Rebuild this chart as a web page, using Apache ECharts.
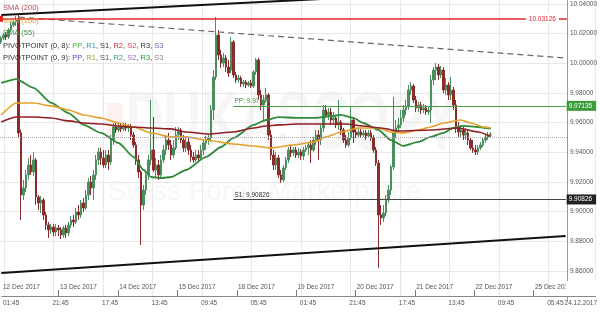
<!DOCTYPE html>
<html><head><meta charset="utf-8">
<script src="https://cdn.jsdelivr.net/npm/echarts@6/dist/echarts.min.js"></script>
<style>html,body{margin:0;padding:0;background:#fff}#c{width:600px;height:320px}</style>
</head><body><div id="c"></div>
<script>
// ---- data (hourly candles) ----
const opens = [10.0144,10.0171,10.0191,10.0178,10.0225,10.0259,10.0279,10.0292,9.9531,9.9113,
9.9160,9.9248,9.9315,9.9268,9.9349,9.9099,9.9059,9.9079,9.8978,9.8911,
9.8877,9.8897,9.8863,9.8890,9.8877,9.8843,9.8890,9.8857,9.8911,9.8944,
9.8931,9.8998,9.8978,9.9059,9.9025,9.9113,9.9200,9.9160,9.9248,9.9349,
9.9403,9.9362,9.9315,9.9382,9.9335,9.9483,9.9571,9.9551,9.9571,9.9558,
9.9578,9.9564,9.9571,9.9517,9.9450,9.9349,9.9268,9.9045,9.9146,9.9248,
9.9349,9.9416,9.9281,9.9315,9.9248,9.9349,9.9416,9.9483,9.9450,9.9382,
9.9430,9.9517,9.9551,9.9483,9.9430,9.9470,9.9416,9.9369,9.9349,9.9382,
9.9362,9.9416,9.9463,9.9483,9.9497,9.9686,9.9908,10.0191,10.0056,10.0002,
10.0036,9.9975,9.9955,10.0144,9.9922,9.9888,9.9901,9.9861,9.9874,9.9854,
9.9868,9.9847,9.9942,10.0023,9.9787,9.9719,9.9753,9.9787,9.9517,9.9382,
9.9315,9.9362,9.9248,9.9214,9.9295,9.9349,9.9416,9.9396,9.9416,9.9382,
9.9403,9.9376,9.9416,9.9430,9.9450,9.9416,9.9483,9.9517,9.9483,9.9564,
9.9686,9.9652,9.9672,9.9618,9.9632,9.9585,9.9605,9.9551,9.9483,9.9450,
9.9497,9.9618,9.9537,9.9517,9.9537,9.9517,9.9531,9.9510,9.9531,9.9497,
9.9416,9.9328,9.8978,9.8958,9.8991,9.9079,9.9146,9.9301,9.9531,9.9564,
9.9585,9.9632,9.9686,9.9706,9.9820,9.9847,9.9753,9.9699,9.9719,9.9686,
9.9699,9.9672,9.9686,9.9888,9.9955,9.9975,9.9922,9.9955,9.9820,9.9854,
9.9787,9.9820,9.9719,9.9571,9.9537,9.9551,9.9517,9.9531,9.9483,9.9430,
9.9416,9.9403,9.9430,9.9450,9.9483,9.9504,9.9517];
const closes = [10.0171,10.0191,10.0178,10.0225,10.0259,10.0279,10.0292,9.9531,9.9113,9.9160,
9.9248,9.9315,9.9268,9.9349,9.9099,9.9059,9.9079,9.8978,9.8911,9.8877,
9.8897,9.8863,9.8890,9.8877,9.8843,9.8890,9.8857,9.8911,9.8944,9.8931,
9.8998,9.8978,9.9059,9.9025,9.9113,9.9200,9.9160,9.9248,9.9349,9.9403,
9.9362,9.9315,9.9382,9.9335,9.9483,9.9571,9.9551,9.9571,9.9558,9.9578,
9.9564,9.9571,9.9517,9.9450,9.9349,9.9268,9.9045,9.9146,9.9248,9.9349,
9.9416,9.9281,9.9315,9.9248,9.9349,9.9416,9.9483,9.9450,9.9382,9.9430,
9.9517,9.9551,9.9483,9.9430,9.9470,9.9416,9.9369,9.9349,9.9382,9.9362,
9.9416,9.9463,9.9483,9.9497,9.9686,9.9908,10.0191,10.0056,10.0002,10.0036,
9.9975,9.9935,10.0144,9.9922,9.9888,9.9901,9.9861,9.9874,9.9854,9.9868,
9.9847,9.9942,10.0023,9.9787,9.9719,9.9753,9.9787,9.9517,9.9382,9.9315,
9.9362,9.9248,9.9214,9.9295,9.9349,9.9416,9.9396,9.9416,9.9382,9.9403,
9.9376,9.9416,9.9430,9.9450,9.9416,9.9483,9.9517,9.9483,9.9564,9.9686,
9.9652,9.9672,9.9618,9.9632,9.9585,9.9605,9.9551,9.9483,9.9450,9.9497,
9.9618,9.9537,9.9517,9.9537,9.9517,9.9531,9.9510,9.9531,9.9497,9.9416,
9.9328,9.8978,9.8958,9.8991,9.9079,9.9146,9.9301,9.9531,9.9564,9.9585,
9.9632,9.9686,9.9706,9.9820,9.9847,9.9753,9.9699,9.9719,9.9686,9.9699,
9.9672,9.9686,9.9888,9.9955,9.9975,9.9922,9.9955,9.9820,9.9854,9.9787,
9.9820,9.9719,9.9571,9.9537,9.9551,9.9517,9.9531,9.9483,9.9430,9.9416,
9.9403,9.9430,9.9450,9.9483,9.9504,9.9517,9.9522];
const lows = [10.0130,10.0157,10.0157,10.0164,10.0211,10.0245,10.0252,9.9497,9.8944,9.9079,
9.9133,9.9214,9.9248,9.9241,9.9045,9.9012,9.8991,9.8944,9.8877,9.8823,
9.8850,9.8836,9.8836,9.8836,9.8816,9.8823,9.8823,9.8836,9.8890,9.8897,
9.8917,9.8944,9.8958,9.8998,9.9012,9.9079,9.9113,9.9079,9.9214,9.9315,
9.9315,9.9295,9.9295,9.9281,9.9315,9.9450,9.9531,9.9537,9.9537,9.9544,
9.9544,9.9537,9.9483,9.9430,9.9315,9.9227,9.8776,9.9012,9.9113,9.9214,
9.9315,9.9268,9.9227,9.9214,9.9227,9.9328,9.9382,9.9416,9.9349,9.9362,
9.9416,9.9483,9.9463,9.9403,9.9403,9.9382,9.9335,9.9328,9.9335,9.9335,
9.9349,9.9382,9.9416,9.9450,9.9470,9.9618,9.9888,10.0023,9.9969,9.9975,
9.9942,9.9908,9.9935,9.9901,9.9868,9.9868,9.9841,9.9841,9.9834,9.9841,
9.9834,9.9834,9.9922,9.9753,9.9686,9.9618,9.9740,9.9483,9.9349,9.9281,
9.9281,9.9227,9.9194,9.9200,9.9281,9.9328,9.9369,9.9376,9.9362,9.9362,
9.9349,9.9349,9.9403,9.9382,9.9328,9.9403,9.9450,9.9349,9.9450,9.9537,
9.9632,9.9618,9.9585,9.9585,9.9564,9.9551,9.9517,9.9463,9.9430,9.9436,
9.9483,9.9463,9.9497,9.9497,9.9497,9.9504,9.9483,9.9497,9.9477,9.9396,
9.9308,9.8621,9.8911,9.8931,9.8971,9.9059,9.9113,9.9281,9.9497,9.9531,
9.9564,9.9605,9.9652,9.9686,9.9787,9.9733,9.9672,9.9672,9.9659,9.9665,
9.9652,9.9652,9.9598,9.9854,9.9888,9.9888,9.9901,9.9800,9.9787,9.9753,
9.9753,9.9686,9.9531,9.9504,9.9504,9.9483,9.9483,9.9450,9.9416,9.9396,
9.9382,9.9382,9.9416,9.9436,9.9463,9.9483,9.9497];
const highs = [10.0184,10.0205,10.0211,10.0238,10.0279,10.0306,10.0319,10.0326,9.9551,9.9214,
9.9281,9.9362,9.9382,9.9403,9.9362,9.9113,9.9106,9.9093,9.8998,9.8931,
9.8917,9.8917,9.8917,9.8911,9.8897,9.8904,9.8911,9.8931,9.8971,9.8978,
9.9025,9.9045,9.9079,9.9093,9.9146,9.9227,9.9241,9.9281,9.9382,9.9430,
9.9430,9.9416,9.9416,9.9416,9.9517,9.9598,9.9598,9.9598,9.9591,9.9598,
9.9598,9.9591,9.9591,9.9537,9.9470,9.9382,9.9281,9.9180,9.9281,9.9382,
9.9753,9.9638,9.9362,9.9349,9.9382,9.9450,9.9517,9.9531,9.9483,9.9483,
9.9571,9.9571,9.9564,9.9517,9.9497,9.9497,9.9450,9.9403,9.9416,9.9416,
9.9450,9.9483,9.9510,9.9517,9.9719,9.9955,10.0312,10.0225,10.0090,10.0070,
10.0056,10.0023,10.0178,10.0157,9.9942,9.9922,9.9915,9.9888,9.9888,9.9881,
9.9888,9.9955,10.0036,10.0036,9.9820,9.9787,9.9834,9.9800,9.9551,9.9416,
9.9403,9.9382,9.9281,9.9315,9.9369,9.9436,9.9450,9.9436,9.9436,9.9430,
9.9423,9.9436,9.9450,9.9470,9.9483,9.9504,9.9551,9.9551,9.9585,9.9719,
9.9719,9.9699,9.9699,9.9672,9.9652,9.9753,9.9618,9.9564,9.9517,9.9537,
9.9706,9.9632,9.9564,9.9564,9.9558,9.9551,9.9551,9.9551,9.9551,9.9517,
9.9436,9.9349,9.9045,9.9045,9.9113,9.9180,9.9315,9.9773,9.9618,9.9632,
9.9686,9.9719,9.9753,9.9854,9.9874,9.9861,9.9780,9.9740,9.9740,9.9726,
9.9719,9.9713,9.9922,9.9975,10.0002,9.9996,9.9982,9.9975,9.9901,9.9874,
9.9908,9.9841,9.9753,9.9605,9.9585,9.9571,9.9564,9.9551,9.9504,9.9483,
9.9450,9.9450,9.9470,9.9497,9.9517,9.9537,9.9537];

// moving averages, read at sample hours
const sma55Idx = [0,6,13,20,27,33,40,47,53,57,60,64,68,74,82,88,93,101,106,111,119,126,132,136,141,145,151,156,161,167,172,177,181,185,191,196];
const sma55 = [9.9868,9.9894,9.9834,9.9733,9.9665,9.9585,9.9531,9.9463,9.9369,9.9281,9.9234,9.9227,9.9234,9.9281,9.9369,9.9436,9.9497,9.9585,9.9618,9.9638,9.9632,9.9632,9.9645,9.9652,9.9632,9.9598,9.9551,9.9483,9.9443,9.9470,9.9504,9.9531,9.9564,9.9578,9.9571,9.95596];
const sma100Idx = [0,6,13,20,27,33,40,47,53,60,68,74,82,93,101,108,117,125,130,136,143,151,156,161,167,172,177,184,188,193,196];
const sma100 = [9.9652,9.9733,9.9733,9.9713,9.9686,9.9652,9.9632,9.9598,9.9571,9.9531,9.9504,9.9504,9.9483,9.9456,9.9443,9.9430,9.9450,9.9470,9.9504,9.9537,9.9564,9.9564,9.9537,9.9531,9.9551,9.9571,9.9598,9.9618,9.9598,9.9571,9.9564];
const sma200Idx = [0,6,13,20,27,33,40,47,53,60,68,74,83,93,101,106,111,119,130,138,145,152,159,172,183,191,196];
const sma200 = [9.9605,9.9638,9.9638,9.9632,9.9612,9.9598,9.9591,9.9578,9.9571,9.9564,9.9558,9.9537,9.9524,9.9537,9.9564,9.9578,9.9585,9.9591,9.9591,9.9591,9.9578,9.9564,9.9544,9.9551,9.9564,9.9537,9.95069];

// trend lines: [start hour, end hour] and levels
const trendUpperIdx = [0,226], trendUpper = [10.0326,10.0516];
const trendLowerIdx = [0,226], trendLower = [9.8587,9.8836];
const trendDashIdx = [7,226], trendDash = [10.0312,10.0036];

// levels
const levelHigh = 10.03126;
const pivotPP = 9.97135;
const pivotS1 = 9.90826;
const pivotStartIdx = 93;

// labels
const yTicks = [9.86,9.88,9.90,9.92,9.94,9.96,9.98,10.00,10.02,10.04];
const timeLabels = ['01:45','21:45','17:45','13:45','09:45','05:45','01:45','21:45','17:45','13:45','09:45','05:45'];
const cursorLabel = '24.12.2017';
const dateLabels = ['12 Dec 2017','13 Dec 2017','14 Dec 2017','15 Dec 2017','18 Dec 2017','19 Dec 2017','20 Dec 2017','21 Dec 2017','22 Dec 2017','25 Dec 2017'];
const smaNames = ['SMA (200)','SMA (100)','SMA (55)'];
const pivotHeads = ['PIVOTPOINT (0, 8)','PIVOTPOINT (0, 9)'];
const pivotKeys = ['PP','R1','S1','R2','S2','R3','S3'];
const watermark = ['DUKASCOPY','Swiss Forex Marketplace'];

// ---- build ----
const FF = '"Liberation Sans", Arial, sans-serif';
const FS = 6.5, FL = 7.5;
const N = 227, NL = 240;
const UP = '#4b8f60', DOWN = '#8c2b2b';
const C200 = '#8e1f24', C100 = '#e3a12b', C55 = '#2f8a3a';
const mainCats = Array.from({length:N}, (_, i) => String(i));
const timeCats = Array.from({length:NL}, (_, i) => (i % 20 === 0 && i / 20 < timeLabels.length) ? timeLabels[i / 20] : '');
timeCats[227] = cursorLabel;
const dayStart = dateLabels.map((_, k) => k === 0 ? 0 : 23 + 24 * (k - 1));
const dateCats = Array(NL).fill('');
dayStart.forEach((s, k) => { dateCats[s] = dateLabels[k]; });
const candles = opens.map((o, i) => [o, closes[i], lows[i], highs[i]]);
const sparse = (idx, vals) => { const a = Array(N).fill(null); idx.forEach((j, k) => { a[j] = vals[k]; }); return a; };
const lastClose = closes[closes.length - 1];

const pivotColors = [
  ['#3fae49','#3a8fa0','#333333','#c0323f','#df3e5d','#333333','#6a68a8'],
  ['#5a4fc8','#a3a23c','#555555','#2fa07c','#9a66c0','#2a9a40','#888888']
];
const pivotText = (h) => '{h|' + pivotHeads[h] + ': }' + pivotKeys.map((k, j) => '{c' + j + '|' + k + '}').join('{h|, }');
const pivotRich = (h) => {
  const r = {h: {color:'#333', fontSize:FL, fontFamily:FF}};
  pivotKeys.forEach((k, j) => { r['c' + j] = {color: pivotColors[h][j], fontSize:FL, fontFamily:FF}; });
  return r;
};
const boxLabel = (bg, v) => ({show:true, position:'end', formatter: v.toFixed(5), color:'#fff', backgroundColor:bg, fontSize:FS, fontFamily:FF, padding:[2,4,1,2], distance:1});

const chart = echarts.init(document.getElementById('c'), null, {renderer:'canvas'});
chart.setOption({
  animation: false,
  backgroundColor: '#fff',
  title: [
    {text: smaNames[0], left:3, top:4, padding:0, textStyle:{color:'#b24a58', fontSize:FL, fontWeight:'normal', fontFamily:FF}},
    {text: smaNames[1], left:3, top:17, padding:0, textStyle:{color:'#dba33c', fontSize:FL, fontWeight:'normal', fontFamily:FF}},
    {text: smaNames[2], left:3, top:29, padding:0, textStyle:{color:'#3f8f4f', fontSize:FL, fontWeight:'normal', fontFamily:FF}},
    {text: pivotText(0), left:3, top:42, padding:0, textStyle:{fontSize:FL, fontWeight:'normal', fontFamily:FF, rich: pivotRich(0)}},
    {text: pivotText(1), left:3, top:54, padding:0, textStyle:{fontSize:FL, fontWeight:'normal', fontFamily:FF, rich: pivotRich(1)}}
  ],
  graphic: [
    {type:'rect', x:107, y:103, shape:{width:16, height:36}, style:{fill:'#fcf0f0'}, z:-1, silent:true},
    {type:'text', x:126, y:84, scaleX:0.62, style:{text: watermark[0], font:'bold 84px "Liberation Sans", Arial, sans-serif', fill:'#f6f6f6', textVerticalAlign:'top'}, z:-1, silent:true},
    {type:'text', x:108, y:178, style:{text: watermark[1], font:'28px "Liberation Sans", Arial, sans-serif', fill:'#f7f7f7', textVerticalAlign:'top'}, z:-1, silent:true},
    {type:'rect', x:566, y:281, shape:{width:34, height:15}, style:{fill:'#fff'}, z:100, silent:true}
  ],
  grid: [
    {left:0, right:33, top:0, bottom:19.3, containLabel:false},
    {left:0, right:0, top:0, bottom:24, containLabel:false}
  ],
  xAxis: [
    {gridIndex:0, type:'category', data: mainCats, boundaryGap:true, show:false},
    {gridIndex:1, type:'category', position:'bottom', data: timeCats, boundaryGap:true,
     axisLine:{show:true, lineStyle:{color:'#888', width:1}}, axisTick:{show:false},
     axisLabel:{interval:0, align:'left', fontSize:FS, color:'#555', margin:4, fontFamily:FF},
     splitLine:{show:true, interval:(i) => i % 20 === 1 && i < N, lineStyle:{color:'#e8e8e8', width:1}}},
    {gridIndex:1, type:'category', position:'bottom', offset:0, data: dateCats, boundaryGap:true,
     axisLine:{show:false},
     axisTick:{show:true, inside:true, length:6, interval:(i) => i > 0 && dayStart.includes(i), lineStyle:{color:'#777'}},
     axisLabel:{inside:true, interval:0, align:'left', fontSize:FS, color:'#555', margin:5, fontFamily:FF},
     splitLine:{show:false}}
  ],
  yAxis: [
    {gridIndex:0, type:'value', position:'right', min:9.84, max:10.0427, interval:0.02,
     axisLine:{show:true, lineStyle:{color:'#999'}}, axisTick:{show:false},
     axisLabel:{fontSize:FS, color:'#555', margin:3, fontFamily:FF, showMinLabel:false, showMaxLabel:false,
       formatter:(v) => yTicks.some(t => Math.abs(t - v) < 1e-6) ? v.toFixed(5) : ''},
     splitLine:{show:true, showMinLine:false, showMaxLine:false, lineStyle:{color:'#e8e8e8'}}},
    {gridIndex:1, type:'value', show:false}
  ],
  series: [
    {type:'candlestick', xAxisIndex:0, yAxisIndex:0, data: candles, barWidth:2, z:2,
     itemStyle:{color:UP, color0:DOWN, borderColor:UP, borderColor0:DOWN, borderWidth:1},
     markLine:{silent:true, symbol:['none','none'], animation:false,
       data:[
         {yAxis: levelHigh, symbol:['none','arrow'], symbolSize:6,
          lineStyle:{color:'#e3262b', width:1.5, type:'solid'},
          label:{show:true, position:'insideEnd', formatter: levelHigh.toFixed(5), color:'#e3262b', fontSize:FS, fontFamily:FF, backgroundColor:'#fff', padding:[1,3], distance:8}},
         [{coord:[pivotStartIdx, pivotPP], lineStyle:{color:'#4aa04a', width:1, type:'solid'},
           label:{show:true, position:'insideStartTop', formatter:'PP: ' + pivotPP.toFixed(5), color:'#3f9a3f', fontSize:FS, fontFamily:FF, distance:1}},
          {coord:[N - 1, pivotPP]}],
         [{coord:[pivotStartIdx, pivotPP], lineStyle:{color:'#4aa04a', width:1, type:'solid'}, label: boxLabel('#3c9c3c', pivotPP)},
          {coord:[N - 1, pivotPP]}],
         [{coord:[pivotStartIdx, pivotS1], lineStyle:{color:'#444', width:1, type:'solid'},
           label:{show:true, position:'insideStartTop', formatter:'S1: ' + pivotS1.toFixed(5), color:'#333', fontSize:FS, fontFamily:FF, distance:1}},
          {coord:[N - 1, pivotS1]}],
         [{coord:[pivotStartIdx, pivotS1], lineStyle:{color:'#444', width:1, type:'solid'}, label: boxLabel('#222', pivotS1)},
          {coord:[N - 1, pivotS1]}],
         {yAxis: lastClose, lineStyle:{color:'#aaa', width:1, type:'dotted'}, label:{show:false}}
       ]}},
    {type:'line', name:smaNames[2], xAxisIndex:0, yAxisIndex:0, data: sparse(sma55Idx, sma55), connectNulls:true, smooth:0.2, smoothMonotone:'x', showSymbol:false, z:3,
     lineStyle:{color:C55, width:1.8},
     markLine:{silent:true, symbol:['none','none'], data:[{yAxis: sma55[sma55.length - 1], lineStyle:{opacity:0}, label: boxLabel('#1f7a30', sma55[sma55.length - 1])}]}},
    {type:'line', name:smaNames[1], xAxisIndex:0, yAxisIndex:0, data: sparse(sma100Idx, sma100), connectNulls:true, smooth:0.2, smoothMonotone:'x', showSymbol:false, z:3,
     lineStyle:{color:C100, width:1.6}},
    {type:'line', name:smaNames[0], xAxisIndex:0, yAxisIndex:0, data: sparse(sma200Idx, sma200), connectNulls:true, smooth:0.2, smoothMonotone:'x', showSymbol:false, z:3,
     lineStyle:{color:C200, width:1.6},
     markLine:{silent:true, symbol:['none','none'], data:[{yAxis: sma200[sma200.length - 1], lineStyle:{opacity:0}, label: boxLabel('#8a1e22', sma200[sma200.length - 1])}]}},
    {type:'line', xAxisIndex:0, yAxisIndex:0, data: sparse(trendUpperIdx, trendUpper), connectNulls:true, showSymbol:false, clip:true, z:4, silent:true,
     lineStyle:{color:'#111', width:2}},
    {type:'line', xAxisIndex:0, yAxisIndex:0, data: sparse(trendLowerIdx, trendLower), connectNulls:true, showSymbol:false, clip:true, z:4, silent:true,
     lineStyle:{color:'#111', width:2}},
    {type:'line', xAxisIndex:0, yAxisIndex:0, data: sparse(trendDashIdx, trendDash), connectNulls:true, showSymbol:false, clip:true, z:4, silent:true,
     lineStyle:{color:'#666', width:1.2, type:[6,4]}}
  ]
});
</script>
</body></html>
